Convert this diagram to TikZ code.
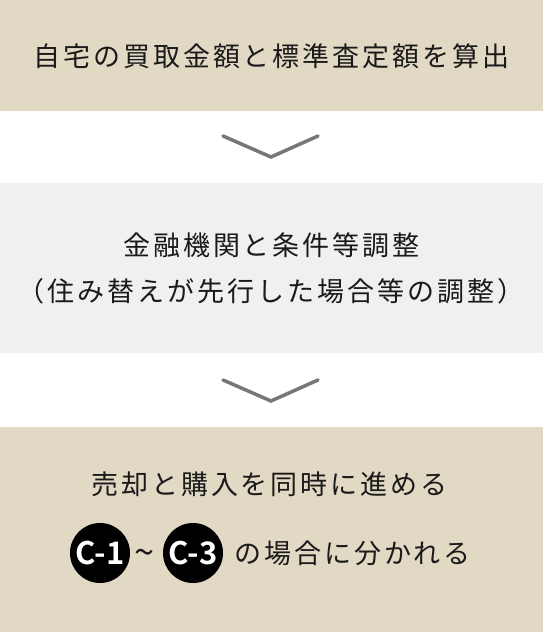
\documentclass[tikz,border=0pt]{standalone}
\usepackage{fontspec}
\newfontfamily\jpfont{Noto Sans CJK JP}[LetterSpace=11]
\newfontfamily\badgefont{Noto Sans CJK JP Bold}

\definecolor{beige}{HTML}{E2D9C4}
\definecolor{paleGray}{HTML}{F1F0EE}
\definecolor{chevGray}{HTML}{777777}
\definecolor{inkBlack}{HTML}{1A1A1A}

\tikzset{
  steptext/.style={font=\jpfont\fontsize{27}{30}\selectfont, text=inkBlack, inner sep=0pt},
  badge/.style={circle, fill=black, text=white, minimum size=60pt, inner sep=0pt,
    font=\badgefont\fontsize{31}{31}\selectfont},
  chevron/.style={chevGray, line width=3.5pt, line cap=round}
}

\begin{document}
\begin{tikzpicture}[x=1pt, y=-1pt]
  % Canvas
  \useasboundingbox (0,0) rectangle (543,632);
  \fill[white] (0,0) rectangle (543,632);

  % Step boxes
  \fill[beige] (0,0) rectangle (543,111);
  \fill[paleGray] (0,183) rectangle (543,353);
  \fill[beige] (0,427) rectangle (543,632);

  % Step 1
  \node[steptext] (buyout) at (271.5,56.5) {自宅の買取金額と標準査定額を算出};

  % Step 2
  \node[steptext] (bank) at (271.5,245) {金融機関と条件等調整};
  \node[steptext] (relocate) at (271,291) {（住み替えが先行した場合等の調整）};

  % Step 3
  \node[steptext] (parallel) at (269.5,484) {売却と購入を同時に進める};
  \node[badge] (caseA) at (100,553) {C-1};
  \node[text=inkBlack, inner sep=0pt, font=\jpfont\fontsize{36}{36}\selectfont] (range) at (144.5,557) {\textasciitilde};
  \node[badge] (caseC) at (193,553) {C-3};
  \node[steptext, anchor=west] (split) at (234,553.5) {の場合に分かれる};

  % Chevrons between steps
  \draw[chevron] (223,136) -- (271,157) -- (318,136);
  \draw[chevron] (223,380) -- (271,401) -- (318,380);
\end{tikzpicture}
\end{document}
